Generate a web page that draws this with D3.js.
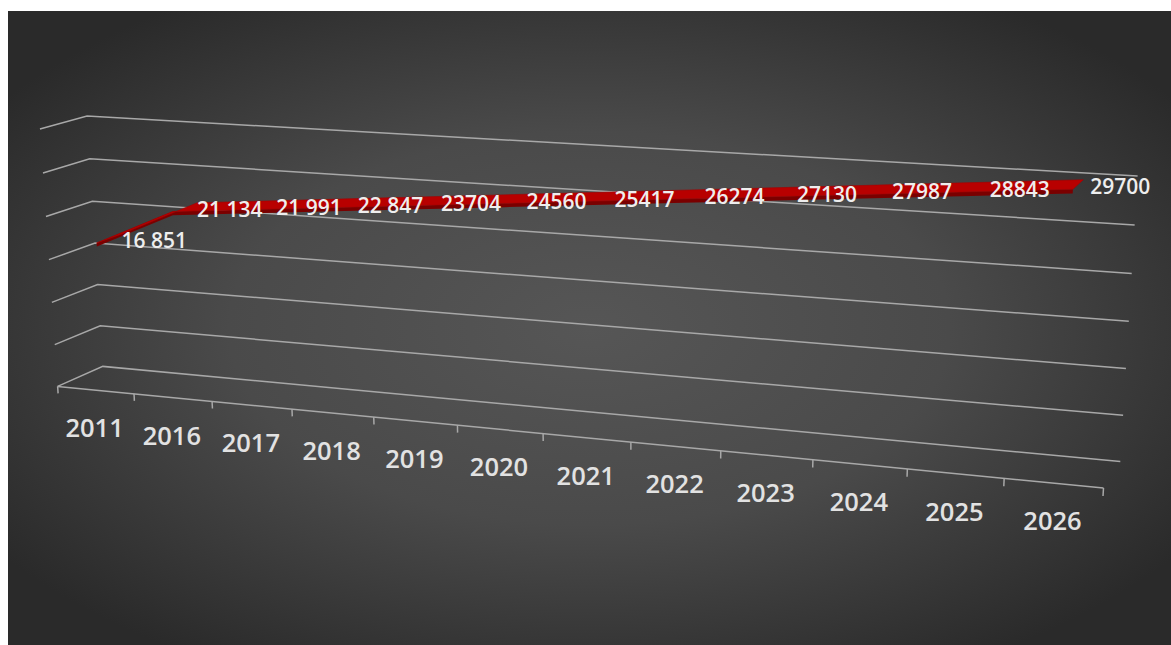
<!DOCTYPE html>
<html>
<head>
<meta charset="utf-8">
<script src="https://cdn.jsdelivr.net/npm/d3@7/dist/d3.min.js"></script>
<style>
  html, body { margin: 0; padding: 0; background: #ffffff; }
  svg { display: block; }
  text { font-family: "Open Sans", "Noto Sans", sans-serif; }
</style>
</head>
<body>
<svg id="chart" width="1171" height="645"></svg>
<script>
// ---------------- data ----------------
const categories = ["2011","2016","2017","2018","2019","2020","2021","2022","2023","2024","2025","2026"];
const values = [16851, 21134, 21991, 22847, 23704, 24560, 25417, 26274, 27130, 27987, 28843, 29700];
const valueLabels = ["16 851","21 134","21 991","22 847","23704","24560","25417","26274","27130","27987","28843","29700"];
const gridValues = [0, 5000, 10000, 15000, 20000, 25000, 30000];

// ---------------- layout / projection setup ----------------
const W = 1171, H = 645;
// calibration of the 3D box: [u, v, w] -> [screen x, screen y]
// u: category axis 0..1, v: value axis 0..1, w: depth 0 (front) .. 1 (back)
const calib = [
  [0,0,0, 58,386], [1,0,0, 1103,488], [0,0,1, 103,367], [1,0,1, 1120,462],
  [0,1,1, 87,116], [1,1,1, 1137,175], [0,1,0, 40,129],
  [1/12,0,0,134,393],[2/12,0,0,212,402],[3/12,0,0,292,409],[4/12,0,0,373,417],
  [5/12,0,0,458,425],[6/12,0,0,543,433],[7/12,0,0,631,442],[8/12,0,0,721,451],
  [9/12,0,0,813,460],[10/12,0,0,908,469],[11/12,0,0,1004,479],
  [0,5/6,0,43,173],[0,4/6,0,46,217],[0,3/6,0,49,260],[0,2/6,0,52,302],[0,1/6,0,54,345],
  [0,5/6,1,90,159],[0,4/6,1,92,201],[0,3/6,1,95,243],[0,2/6,1,98,284],[0,1/6,1,100,326],
  [1,1/6,1,1123,415],[1,2/6,1,1126,368],[1,3/6,1,1129,322],[1,4/6,1,1132,273],[1,5/6,1,1135,226]
];

function solveDLT(pts) {
  const A = [], b = [];
  for (const [u, v, w, x, y] of pts) {
    A.push([u, v, w, 1, 0, 0, 0, 0, -x*u, -x*v, -x*w]); b.push(x);
    A.push([0, 0, 0, 0, u, v, w, 1, -y*u, -y*v, -y*w]); b.push(y);
  }
  const n = 11;
  const M = Array.from({length: n}, () => new Array(n + 1).fill(0));
  for (let r = 0; r < A.length; r++) {
    for (let i = 0; i < n; i++) {
      for (let j = 0; j < n; j++) M[i][j] += A[r][i] * A[r][j];
      M[i][n] += A[r][i] * b[r];
    }
  }
  for (let c = 0; c < n; c++) {
    let p = c;
    for (let r = c + 1; r < n; r++) if (Math.abs(M[r][c]) > Math.abs(M[p][c])) p = r;
    [M[c], M[p]] = [M[p], M[c]];
    for (let r = 0; r < n; r++) {
      if (r === c) continue;
      const f = M[r][c] / M[c][c];
      for (let k = c; k <= n; k++) M[r][k] -= f * M[c][k];
    }
  }
  return M.map((row, i) => row[n] / row[i]);
}
const m = solveDLT(calib);
function project(u, v, w) {
  const d = m[8]*u + m[9]*v + m[10]*w + 1;
  return [(m[0]*u + m[1]*v + m[2]*w + m[3]) / d,
          (m[4]*u + m[5]*v + m[6]*w + m[7]) / d];
}

// scales
const xBand = d3.scaleBand().domain(categories).range([0, 1]).padding(0);
const uCenter = c => xBand(c) + xBand.bandwidth() / 2;
const vScale = d3.scaleLinear().domain([0, 30000]).range([0, 1]);

const svg = d3.select("#chart");

// ---------------- background ----------------
const defs = svg.append("defs");
const bg = defs.append("radialGradient").attr("id", "bgGrad")
  .attr("cx", "50%").attr("cy", "50%").attr("r", "62%");
bg.append("stop").attr("offset", "0%").attr("stop-color", "#565656");
bg.append("stop").attr("offset", "50%").attr("stop-color", "#4a4a4a");
bg.append("stop").attr("offset", "100%").attr("stop-color", "#2a2a2a");
svg.append("rect").attr("x", 8).attr("y", 11).attr("width", W - 8).attr("height", H - 11)
  .attr("fill", "url(#bgGrad)");

const line = d3.line();
const gridColor = "#a8a8a8";
const g = svg.append("g").attr("fill", "none").attr("stroke", gridColor).attr("stroke-width", 1.5);

// back wall + left wall gridlines
gridValues.forEach(val => {
  const v = vScale(val);
  g.append("path").attr("d", line([project(0, v, 0), project(0, v, 1), project(1, v, 1)]));
});
// floor front edge
g.append("path").attr("d", line([project(0, 0, 0), project(1, 0, 0)]));
// tick marks on category axis
const tickBounds = d3.range(categories.length + 1).map(i => i / categories.length);
tickBounds.forEach(u => {
  g.append("path").attr("d", line([project(u, 0, 0), project(u, -0.028, 0)]));
});

// ---------------- ribbon ----------------
const w1 = 0.22, w2 = 0.78, thick = 0.014;
const pts = categories.map((c, i) => ({u: uCenter(c), v: vScale(values[i])}));
const frontTop = pts.map(p => project(p.u, p.v, w1));
const frontBot = pts.map(p => project(p.u, p.v - thick, w1));
const backTop = pts.map(p => project(p.u, p.v, w2));

svg.append("path")
  .attr("d", line(frontTop.concat(frontBot.slice().reverse())) + "Z")
  .attr("fill", "#7a0000");
svg.append("path")
  .attr("d", line(frontTop.concat(backTop.slice().reverse())) + "Z")
  .attr("fill", "#b80000").attr("stroke", "#a40000").attr("stroke-width", 0.6);

// ---------------- value labels ----------------
svg.append("g").selectAll("text").data(pts).join("text")
  .attr("x", d => project(d.u, d.v, 0.5)[0] + 12)
  .attr("y", d => project(d.u, d.v, 0.5)[1] + 2)
  .attr("dominant-baseline", "central")
  .attr("font-size", 21)
  .attr("font-weight", 600)
  .attr("fill", "#eeeeee")
  .text((d, i) => valueLabels[i]);

// ---------------- category labels ----------------
svg.append("g").selectAll("text").data(categories).join("text")
  .attr("x", c => project(uCenter(c), 0, 0)[0] - 1)
  .attr("y", c => project(uCenter(c), 0, 0)[1] + 37)
  .attr("text-anchor", "middle")
  .attr("dominant-baseline", "central")
  .attr("font-size", 25.5)
  .attr("font-weight", 600)
  .attr("fill", "#e2e2e2")
  .text(c => c);
</script>
</body>
</html>
